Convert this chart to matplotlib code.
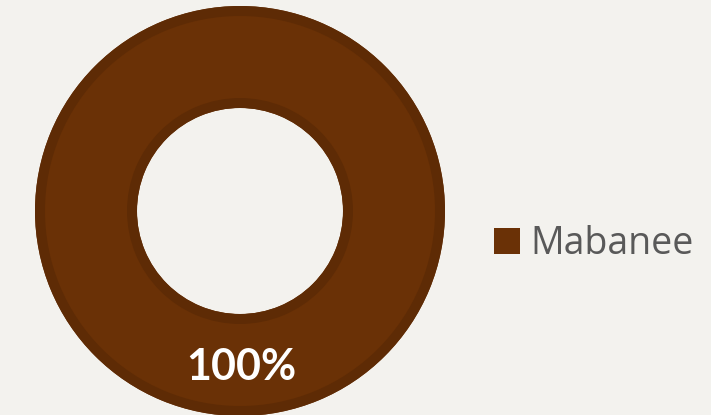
import matplotlib
matplotlib.use("Agg")
import matplotlib.pyplot as plt
from matplotlib.patches import Wedge

labels = ["Mabanee"]
values = [100]
colors = ["#6a3106"]
edge_color = "#5e2b05"
bg = "#f3f2ee"

W, H = 711, 415
fig = plt.figure(figsize=(W / 100, H / 100), dpi=100, facecolor=bg)
ax = fig.add_axes([0, 0, 1, 1])
ax.set_xlim(0, W)
ax.set_ylim(H, 0)
ax.set_facecolor(bg)
ax.axis("off")

cx, cy = 240, 211
r_out, r_in = 205, 103
ring = r_out - r_in

wedges, _ = ax.pie(values, colors=colors, center=(cx, cy), radius=r_out,
                   startangle=90, counterclock=False,
                   wedgeprops=dict(width=ring, linewidth=0))
ax.set_xlim(0, W)
ax.set_ylim(H, 0)
ax.set_aspect("equal")

# darker border bands along the outer and inner edges of the ring
bw = 10
ax.add_patch(Wedge((cx, cy), r_out, 0, 360, width=bw, facecolor=edge_color, linewidth=0))
ax.add_patch(Wedge((cx, cy), r_in + bw, 0, 360, width=bw, facecolor=edge_color, linewidth=0))

total = sum(values)
for v in values:
    ax.text(cx + 1, 367, f"{v / total * 100:.0f}%", ha="center", va="center",
            color="white", fontsize=31, fontweight="bold", family="Lato")

leg = ax.legend(wedges, labels, loc="center left", bbox_to_anchor=(494 / W, 1 - 244 / H),
                frameon=False, handlelength=0.68, handleheight=0.68,
                handletextpad=0.3, borderpad=0, borderaxespad=0,
                prop=dict(family="Open Sans", size=27))
for t in leg.get_texts():
    t.set_color("#595959")

fig.savefig("out.png", dpi=100, facecolor=bg)
